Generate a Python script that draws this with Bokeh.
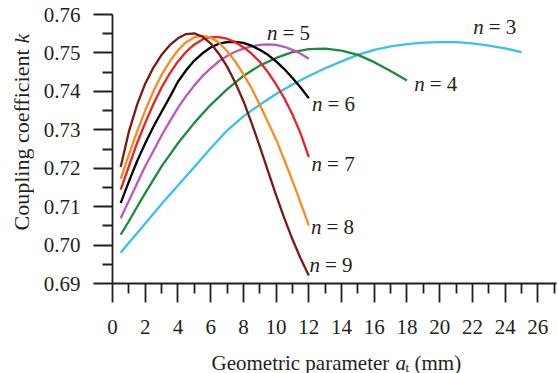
import math
from bokeh.plotting import figure
from bokeh.layouts import row, column
from bokeh.models import Label, FixedTicker, PrintfTickFormatter, Range1d
from bokeh.embed import file_html
from bokeh.resources import INLINE

# ---------------- data ----------------
x3 = [0.5, 1, 1.5, 2, 3, 4, 5, 6, 7, 8, 9, 10, 11, 12, 13, 14, 15, 16, 17, 18, 19, 20, 21, 22, 23, 24, 25]
k3 = [0.698, 0.7006, 0.7031, 0.7056, 0.7107, 0.7155, 0.7203, 0.7252, 0.7298, 0.7335, 0.7365, 0.7393, 0.7418,
      0.7440, 0.7460, 0.7478, 0.7495, 0.7508, 0.7517, 0.7523, 0.7527, 0.7528, 0.7528, 0.7525, 0.7519, 0.7512, 0.7502]
x4 = [0.5, 1, 1.5, 2, 3, 4, 5, 6, 7, 8, 9, 10, 11, 12, 13, 14, 15, 16, 17, 18]
k4 = [0.7027, 0.7062, 0.7099, 0.7135, 0.7205, 0.7265, 0.7318, 0.7365, 0.7405, 0.7440, 0.7467, 0.7487, 0.7502,
      0.7510, 0.7511, 0.7506, 0.7495, 0.7476, 0.7453, 0.7428]
x5to9 = [0.5, 1, 1.5, 2, 2.5, 3, 3.5, 4, 4.5, 5, 5.5, 6, 6.5, 7, 7.5, 8, 8.5, 9, 9.5, 10, 10.5, 11, 11.5, 12]
k5 = [0.7070, 0.7115, 0.7160, 0.7205, 0.7245, 0.7285, 0.7322, 0.7357, 0.7388, 0.7415, 0.7440, 0.7460,
      0.7478, 0.7492, 0.7503, 0.7511, 0.7517, 0.7521, 0.7522, 0.7521, 0.7516, 0.7508, 0.7498, 0.7485]
k6 = [0.7109, 0.7165, 0.7218, 0.7265, 0.7308, 0.7347, 0.7385, 0.7425, 0.7455, 0.7480, 0.7499, 0.7514,
      0.7524, 0.7528, 0.7529, 0.7526, 0.7519, 0.7508, 0.7495, 0.7478, 0.7458, 0.7435, 0.7410, 0.7382]
k7 = [0.7144, 0.7205, 0.7265, 0.7318, 0.7367, 0.7410, 0.7447, 0.7478, 0.7503, 0.7522, 0.7535, 0.7541,
      0.7541, 0.7537, 0.7528, 0.7515, 0.7498, 0.7477, 0.7450, 0.7418, 0.7382, 0.7340, 0.7290, 0.7229]
k8 = [0.7172, 0.7235, 0.7295, 0.7350, 0.7400, 0.7443, 0.7478, 0.7507, 0.7528, 0.7541, 0.7545, 0.7540,
      0.7527, 0.7505, 0.7478, 0.7445, 0.7408, 0.7365, 0.7320, 0.7275, 0.7222, 0.7167, 0.7110, 0.7051]
k9 = [0.7203, 0.7295, 0.7365, 0.7420, 0.7462, 0.7495, 0.7520, 0.7538, 0.7549, 0.7551, 0.7542, 0.7525,
      0.7498, 0.7465, 0.7423, 0.7375, 0.7318, 0.7257, 0.7193, 0.7130, 0.7070, 0.7015, 0.6965, 0.6921]

series_names = ["3", "4", "5", "6", "7", "8", "9"]
series_colors = ["#38c0ef", "#1b8b3e", "#c155b6", "#000000", "#ee2024", "#f88c1e", "#7b1a14"]
# label anchors (left x, centre k) for "n = ..."
label_x = [22.05, 18.44, 9.44, 12.19, 12.17, 12.13, 12.04]
label_k = [0.7567, 0.7418, 0.7551, 0.7368, 0.7211, 0.7048, 0.6949]

x_ticks = [0, 2, 4, 6, 8, 10, 12, 14, 16, 18, 20, 22, 24, 26]
x_minor = [1, 3, 5, 7, 9, 11, 13, 15, 17, 19, 21, 23, 25, 27]
y_ticks = [0.69, 0.70, 0.71, 0.72, 0.73, 0.74, 0.75, 0.76]
y_minor = [0.695, 0.705, 0.715, 0.725, 0.735, 0.745, 0.755]

x_title_main = "Geometric parameter"
x_title_var = "a"
x_title_sub = "t"
x_title_unit = "(mm)"
y_title_main = "Coupling coefficient"
y_title_var = "k"

# ---------------- layout ----------------
FONT = "Liberation Serif"
TXT = "#231f20"
TOTAL_W, TOTAL_H = 558, 373
YL_W = 34             # strip for the y title
XL_H = 30             # strip for the x title
MW, MH = TOTAL_W - YL_W, TOTAL_H - XL_H
ML, MR, MT = 78, 2, 14
MB = MH - 283
fw = MW - ML - MR
x_end = fw / 16.36

p = figure(width=MW, height=MH, output_backend="svg", toolbar_location=None,
           x_range=Range1d(0, x_end), y_range=Range1d(0.69, 0.76),
           min_border_left=ML, min_border_right=MR, min_border_top=MT, min_border_bottom=MB)
p.grid.visible = False
p.outline_line_color = None
pxx = fw / x_end

for ax in (p.xaxis[0], p.yaxis[0]):
    ax.axis_line_color = TXT
    ax.axis_line_width = 1.8
    ax.major_tick_line_color = TXT
    ax.major_tick_line_width = 1.8
    ax.minor_tick_line_color = TXT
    ax.minor_tick_line_width = 1.8
    ax.major_tick_in = 0
    ax.major_tick_out = 19
    ax.minor_tick_in = 0
    ax.minor_tick_out = 10
    ax.major_label_text_font = FONT
    ax.major_label_text_font_size = "21px"
    ax.major_label_text_color = TXT
p.xaxis[0].major_label_standoff = 17
p.yaxis[0].major_label_standoff = 13

p.xaxis[0].ticker = FixedTicker(ticks=x_ticks, minor_ticks=x_minor)
p.yaxis[0].ticker = FixedTicker(ticks=y_ticks, minor_ticks=y_minor)
p.yaxis[0].formatter = PrintfTickFormatter(format="%.2f")

all_k = [k3, k4, k5, k6, k7, k8, k9]
all_x = [x3, x4, x5to9, x5to9, x5to9, x5to9, x5to9]
for xs, ks, c in zip(all_x, all_k, series_colors):
    p.line(xs, ks, line_color=c, line_width=2.3, line_join="round")

for name, lx, lk in zip(series_names, label_x, label_k):
    p.add_layout(Label(x=lx, y=lk, text="n", text_font=FONT, text_font_size="21px",
                       text_font_style="italic", text_color=TXT, text_align="left",
                       text_baseline="middle"))
    p.add_layout(Label(x=lx + 15.5 / pxx, y=lk, text="= " + name, text_font=FONT,
                       text_font_size="21px", text_color=TXT, text_align="left",
                       text_baseline="middle"))

# ---------------- x title strip (frame aligned with main frame, page px coords) ----------------
px = figure(width=MW, height=XL_H, output_backend="svg", toolbar_location=None,
            x_range=Range1d(YL_W + ML, YL_W + MW - MR), y_range=Range1d(0, XL_H),
            x_axis_type=None, y_axis_type=None,
            min_border_left=ML, min_border_right=MR, min_border_top=0, min_border_bottom=0,
            outline_line_color=None)
base_y = 11
px.add_layout(Label(x=211, y=base_y, text=x_title_main, text_font=FONT, text_font_size="21px",
                    text_color=TXT, text_align="left", text_baseline="alphabetic"))
px.add_layout(Label(x=395, y=base_y, text=x_title_var, text_font=FONT, text_font_size="21px",
                    text_font_style="italic", text_color=TXT, text_align="left", text_baseline="alphabetic"))
px.add_layout(Label(x=405, y=base_y - 4.5, text=x_title_sub, text_font=FONT, text_font_size="13px",
                    text_color=TXT, text_align="left", text_baseline="alphabetic"))
px.add_layout(Label(x=414, y=base_y, text=x_title_unit, text_font=FONT, text_font_size="21px",
                    text_color=TXT, text_align="left", text_baseline="alphabetic"))

# ---------------- y title strip ----------------
py = figure(width=YL_W, height=TOTAL_H, output_backend="svg", toolbar_location=None,
            x_range=Range1d(0, YL_W), y_range=Range1d(0, TOTAL_H), x_axis_type=None, y_axis_type=None,
            min_border=0, outline_line_color=None)
y_start = TOTAL_H - 230
py.add_layout(Label(x=21, y=y_start, text=y_title_main, text_font=FONT, text_font_size="22px",
                    text_color=TXT, text_align="left", text_baseline="middle",
                    angle=math.pi / 2, angle_units="rad"))
py.add_layout(Label(x=21, y=y_start + 187, text=y_title_var, text_font=FONT, text_font_size="22px",
                    text_font_style="italic", text_color=TXT, text_align="left", text_baseline="middle",
                    angle=math.pi / 2, angle_units="rad"))

layout = row(py, column(p, px))
open("out.html", "w").write(file_html(layout, INLINE))
